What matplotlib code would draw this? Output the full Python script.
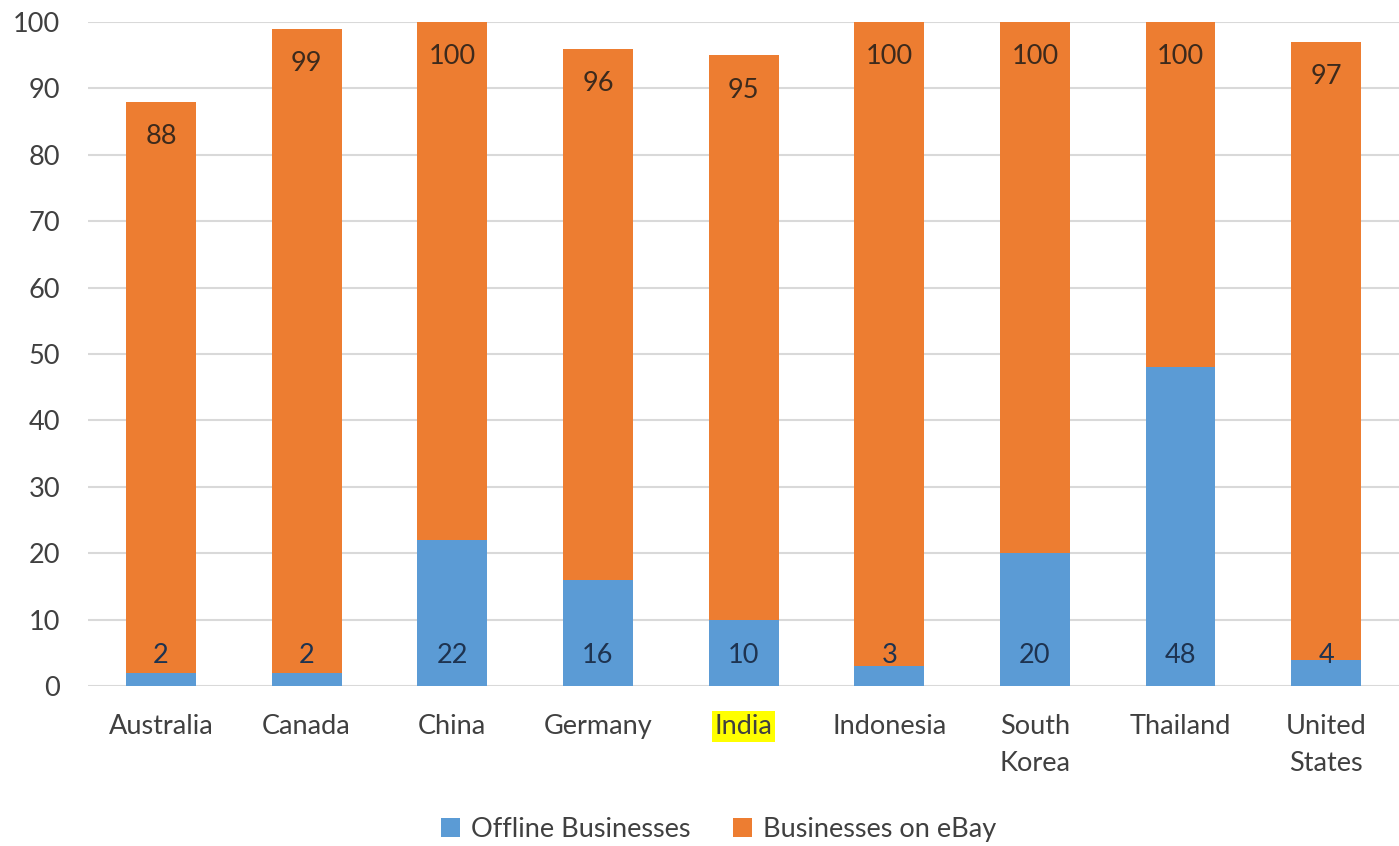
import numpy as np
import matplotlib.pyplot as plt

#Chart data
countries = ["Australia", "Canada", "China", "Germany", "India",
             "Indonesia", "South\nKorea", "Thailand", "United\nStates"]
offline = [2, 2, 22, 16, 10, 3, 20, 48, 4]
ebay = [88, 99, 100, 96, 95, 100, 100, 100, 97]

plt.rcParams['font.family'] = ['Lato', 'DejaVu Sans']

fig = plt.figure(figsize=(13.99, 8.46), dpi=100)
ax = fig.add_axes([0.063, 0.189, 0.937, 0.785])

x = np.arange(len(countries))
w = 0.48
#Overlapping bars: eBay behind, offline in front
bars_e = ax.bar(x, ebay, w, color='#ED7D31', label='Businesses on eBay', zorder=2)
bars_o = ax.bar(x, offline, w, color='#5B9BD5', label='Offline Businesses', zorder=3)

#Data labels
for i in range(len(x)):
    ax.annotate(str(ebay[i]), (x[i], ebay[i]), xytext=(0, -35), textcoords='offset pixels',
                ha='center', va='center', fontsize=19.5, color='#3d2a1c', zorder=4)
    ax.annotate(str(offline[i]), (x[i], 0), xytext=(0, 31), textcoords='offset pixels',
                ha='center', va='center', fontsize=19.5, color='#1e3350', zorder=4)

ax.set_xlim(-0.5, 8.5)
ax.set_ylim(0, 100)
ax.set_yticks(np.arange(0, 101, 10))
ax.grid(axis='y', color='#d9d9d9', lw=1.5, zorder=0)
ax.set_axisbelow(True)
for s in ax.spines.values():
    s.set_visible(False)
ax.tick_params(length=0, labelsize=19.5, colors='#404040')
ax.tick_params(axis='y', pad=20)
ax.tick_params(axis='x', pad=20)
ax.set_xticks(x)
ax.set_xticklabels(countries, va='top', linespacing=1.6)

#Highlight India
ax.get_xticklabels()[4].set_bbox(dict(facecolor='#ffff00', edgecolor='none', pad=2))

handles = [bars_o, bars_e]
ax.legend(handles, [h.get_label() for h in handles], loc='lower center',
          bbox_to_anchor=(0.481, -0.272), ncol=2, frameon=False, fontsize=19.5,
          handlelength=0.7, handleheight=0.7, handletextpad=0.4, columnspacing=1.6,
          labelcolor='#404040')

fig.savefig('out.png', dpi=100)
